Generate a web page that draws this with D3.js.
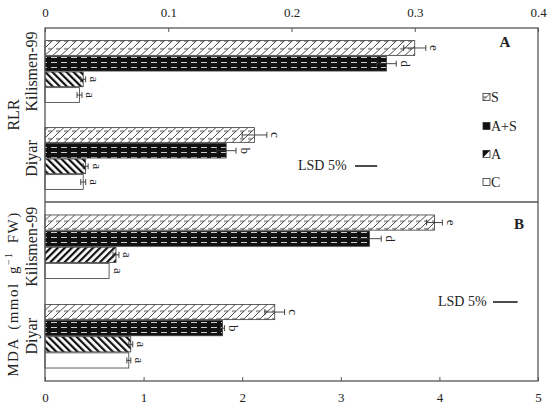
<!DOCTYPE html>
<html><head><meta charset="utf-8">
<script src="https://cdn.jsdelivr.net/npm/d3@7"></script>
<style>body{margin:0;background:#fff}text{font-family:"Liberation Serif","Times New Roman",serif;fill:#222}</style>
</head><body>
<script>
// ---------- data ----------
const categories = ["Kilismen-99", "Diyar"];
const treatments = ["S", "A+S", "A", "C"];
const rlrTicks = [0, 0.1, 0.2, 0.3, 0.4];
const mdaTicks = [0, 1, 2, 3, 4, 5];
const rlrKilismen = [0.300, 0.277, 0.031, 0.028];
const rlrDiyar = [0.170, 0.147, 0.033, 0.031];
const rlrErrKilismen = [0.009, 0.008, 0.002, 0.002];
const rlrErrDiyar = [0.010, 0.008, 0.002, 0.002];
const rlrLetKilismen = ["e", "d", "a", "a"];
const rlrLetDiyar = ["c", "b", "a", "a"];
const mdaKilismen = [3.95, 3.29, 0.72, 0.65];
const mdaDiyar = [2.33, 1.80, 0.87, 0.85];
const mdaErrKilismen = [0.08, 0.12, 0.03, 0.0];
const mdaErrDiyar = [0.10, 0.02, 0.02, 0.02];
const mdaLetKilismen = ["e", "d", "a", "a"];
const mdaLetDiyar = ["c", "b", "a", "a"];
const lsdRlr = 0.018;
const lsdMda = 0.25;

// ---------- layout ----------
const W = 550, H = 408;
const L = 45, R = 538, T = 28, MID = 202, B = 381;
const svg = d3.select("body").append("svg").attr("width", W).attr("height", H);
const defs = svg.append("defs");
const stroke = "#3a3a3a";

// patterns
const pS = defs.append("pattern").attr("id", "pS").attr("patternUnits", "userSpaceOnUse")
  .attr("width", 8).attr("height", 7.5);
pS.append("rect").attr("width", 8).attr("height", 7.5).attr("fill", "#fff");
pS.append("path").attr("d", "M0,7.5 L8,0 M-2,1.9 L2,-1.9 M6,9.4 L10,5.6 M0,3.75 H4").attr("stroke", "#333").attr("stroke-width", 0.9).attr("fill", "none");
const pAS = defs.append("pattern").attr("id", "pAS").attr("patternUnits", "userSpaceOnUse")
  .attr("width", 10).attr("height", 5);
pAS.append("rect").attr("width", 10).attr("height", 5).attr("fill", "#111");
pAS.append("path").attr("d", "M1,2.5 H7").attr("stroke", "#ccc").attr("stroke-width", 1);
function diag(id, ang) {
  const p = defs.append("pattern").attr("id", id).attr("patternUnits", "userSpaceOnUse")
    .attr("width", 5).attr("height", 5).attr("patternTransform", `rotate(${ang})`);
  p.append("rect").attr("width", 5).attr("height", 5).attr("fill", "#fff");
  p.append("rect").attr("width", 2.2).attr("height", 5).attr("fill", "#111");
}
diag("pBack", -45);
diag("pFwd", 45);

const fillFor = (t, panel, cat) => {
  if (t === "S") return "url(#pS)";
  if (t === "A+S") return "url(#pAS)";
  if (t === "A") return (panel === 1 && cat === 0) ? "url(#pFwd)" : "url(#pBack)";
  return "#fff";
};

const xTop = d3.scaleLinear().domain([0, 0.4]).range([L, R]);
const xBot = d3.scaleLinear().domain([0, 5]).range([L, R]);

const panels = [
  { x: xTop, y0: T, y1: MID, vals: [rlrKilismen, rlrDiyar], errs: [rlrErrKilismen, rlrErrDiyar], lets: [rlrLetKilismen, rlrLetDiyar] },
  { x: xBot, y0: MID, y1: B, vals: [mdaKilismen, mdaDiyar], errs: [mdaErrKilismen, mdaErrDiyar], lets: [mdaLetKilismen, mdaLetDiyar] }
];

panels.forEach((p, pi) => {
  const yc = d3.scaleBand().domain(categories).range([p.y0, p.y1]);
  const g = svg.append("g");
  categories.forEach((c, ci) => {
    const bw = yc.bandwidth();
    const gh = bw * 0.71;
    const start = yc(c) + (bw - gh) / 2;
    const yt = d3.scaleBand().domain(treatments).range([start, start + gh]).paddingInner(0.06);
    treatments.forEach((t, ti) => {
      const v = p.vals[ci][ti], e = p.errs[ci][ti];
      const y = yt(t), h = yt.bandwidth(), cy = y + h / 2;
      g.append("rect").attr("x", p.x(0)).attr("y", y).attr("width", p.x(v) - p.x(0)).attr("height", h)
        .attr("fill", fillFor(t, pi, ci)).attr("stroke", stroke).attr("stroke-width", 0.8);
      if (e > 0) {
        g.append("path").attr("d", `M${p.x(v - e)},${cy} H${p.x(v + e)} M${p.x(v - e)},${cy - 3} V${cy + 3} M${p.x(v + e)},${cy - 3} V${cy + 3}`)
          .attr("stroke", "#333").attr("stroke-width", 0.9).attr("fill", "none");
      }
      const lx = p.x(v + e) + 9;
      g.append("text").attr("transform", `translate(${lx},${cy}) rotate(90)`)
        .attr("text-anchor", "middle").attr("dominant-baseline", "central")
        .style("font-size", "13px").text(p.lets[ci][ti]);
    });
    svg.append("text").attr("transform", `translate(31,${yc(c) + bw / 2}) rotate(-90)`)
      .attr("text-anchor", "middle").attr("dominant-baseline", "central")
      .style("font-size", "16px").text(c);
  });
});

// axes
const axT = svg.append("g").attr("transform", `translate(0,${T})`)
  .call(d3.axisTop(xTop).tickValues(rlrTicks).tickSize(-4).tickPadding(11).tickFormat(d3.format("")));
const axB = svg.append("g").attr("transform", `translate(0,${B})`)
  .call(d3.axisBottom(xBot).tickValues(mdaTicks).tickSize(-4).tickPadding(12).tickFormat(d3.format("")));
[axT, axB].forEach(a => {
  a.select(".domain").remove();
  a.selectAll("line").attr("stroke", "#555");
  a.selectAll("text").style("font-family", '"Liberation Serif",serif').style("font-size", "13px").attr("fill", "#333");
});

// frames
svg.append("rect").attr("x", L).attr("y", T).attr("width", R - L).attr("height", B - T)
  .attr("fill", "none").attr("stroke", "#555").attr("stroke-width", 1.3);
svg.append("line").attr("x1", L).attr("x2", R).attr("y1", MID).attr("y2", MID)
  .attr("stroke", "#555").attr("stroke-width", 1.3);

// titles
svg.append("text").attr("transform", "translate(13,115) rotate(-90)").attr("text-anchor", "middle")
  .attr("dominant-baseline", "central").style("font-size", "16px").text("RLR");
const mt = svg.append("text").attr("transform", "translate(13,294) rotate(-90)").attr("text-anchor", "middle")
  .attr("dominant-baseline", "central").style("font-size", "15px").style("letter-spacing", "1.5px").style("word-spacing", "3px");
mt.append("tspan").text("MDA (mmol g");
mt.append("tspan").attr("dy", -5).style("font-size", "10px").text("−1");
mt.append("tspan").attr("dy", 5).text(" FW)");

// panel letters
svg.append("text").attr("x", 505).attr("y", 42).attr("text-anchor", "middle").attr("dominant-baseline", "central")
  .style("font-size", "15px").style("font-weight", "bold").text("A");
svg.append("text").attr("x", 519).attr("y", 224).attr("text-anchor", "middle").attr("dominant-baseline", "central")
  .style("font-size", "15px").style("font-weight", "bold").text("B");

// LSD markers
svg.append("text").attr("x", 298).attr("y", 165).attr("dominant-baseline", "central").style("font-size", "14px").text("LSD 5%");
svg.append("line").attr("x1", 355).attr("x2", 355 + xTop(lsdRlr) - xTop(0)).attr("y1", 166).attr("y2", 166).attr("stroke", "#111").attr("stroke-width", 1.5);
svg.append("text").attr("x", 438).attr("y", 301).attr("dominant-baseline", "central").style("font-size", "14px").text("LSD 5%");
svg.append("line").attr("x1", 493).attr("x2", 493 + xBot(lsdMda) - xBot(0)).attr("y1", 302).attr("y2", 302).attr("stroke", "#111").attr("stroke-width", 1.5);

// legend
const legY = [97, 126, 154, 182];
treatments.forEach((t, i) => {
  const y = legY[i];
  const sw = svg.append("g");
  sw.append("rect").attr("x", 483).attr("y", y - 3.5).attr("width", 7).attr("height", 7)
    .attr("fill", t === "A+S" ? "#111" : "#fff").attr("stroke", "#333").attr("stroke-width", 0.8);
  if (t === "S") sw.append("path").attr("d", `M483,${y + 3.5} L490,${y - 3.5} M483,${y} H486.5`).attr("stroke", "#333").attr("stroke-width", 0.8);
  if (t === "A") sw.append("path").attr("d", `M483,${y - 3.5} H490 L483,${y + 3.5} Z`).attr("fill", "#111");
  svg.append("text").attr("x", 491).attr("y", y).attr("dominant-baseline", "central").style("font-size", "14px").text(t);
});
</script>
</body></html>
